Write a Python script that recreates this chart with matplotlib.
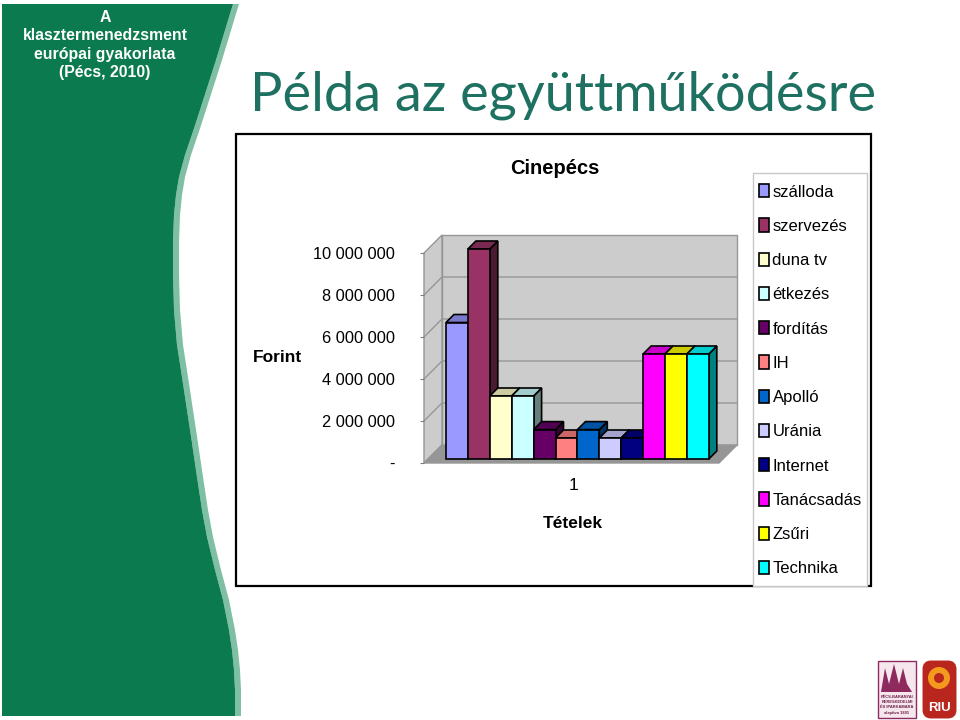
import matplotlib
matplotlib.use("Agg")
import matplotlib.pyplot as plt
from matplotlib.patches import Polygon, Rectangle, Circle, FancyBboxPatch
from matplotlib.colors import to_rgb

labels = ["szálloda", "szervezés", "duna tv", "étkezés", "fordítás", "IH",
          "Apolló", "Uránia", "Internet", "Tanácsadás", "Zsűri", "Technika"]
values = [6500000, 10000000, 3000000, 3000000, 1400000, 1000000,
          1400000, 1000000, 1000000, 5000000, 5000000, 5000000]
colors = ["#9999FF", "#993366", "#FFFFCC", "#CCFFFF", "#660066", "#FF8080",
          "#0066CC", "#CCCCFF", "#000080", "#FF00FF", "#FFFF00", "#00FFFF"]
y_ticks = [0, 2000000, 4000000, 6000000, 8000000, 10000000]
y_tick_labels = ["-", "2 000 000", "4 000 000", "6 000 000", "8 000 000", "10 000 000"]
side_text = ["A", "klasztermenedzsment", "európai gyakorlata", "(Pécs, 2010)"]
logo_text = ["PÉCS-BARANYAI", "KERESKEDELMI", "ÉS IPARKAMARA", "alapítva 1891"]
title = "Példa az együttműködésre"
chart_title = "Cinepécs"
y_title = "Forint"
x_title = "Tételek"
GREEN = "#0B7A4E"
STRIPE = "#7FBFA3"

plt.rcParams["font.family"] = ["Liberation Sans", "DejaVu Sans"]


def shade(color, k):
    return tuple(c * k for c in to_rgb(color))


fig = plt.figure(figsize=(9.6, 7.2), dpi=100)

# slide background in pixel coordinates
bg = fig.add_axes([0, 0, 1, 1])
bg.set_xlim(0, 960)
bg.set_ylim(720, 0)
bg.axis("off")

edge_y = [4, 60, 110, 130, 155, 177, 195, 215, 243, 275, 310, 345, 377, 410, 443, 477, 510, 537, 570, 600, 630, 650, 670, 690, 716]
edge_x = [233, 216, 200, 193.5, 185, 179, 176, 174, 173, 173, 174, 177, 182, 187, 192, 197, 202, 207, 215, 223, 229, 232, 234, 235, 235]
stripe = [(x, y) for x, y in zip(edge_x, edge_y)] + \
         [(x + 6, y) for x, y in zip(edge_x[::-1], edge_y[::-1])]
bg.add_patch(Polygon(stripe, fc=STRIPE, ec="none"))
bg.add_patch(Polygon([(2, 4)] + list(zip(edge_x, edge_y)) + [(2, 716)], fc=GREEN, ec="none"))

for line, y in zip(side_text, [17, 36, 55, 73]):
    bg.text(105, y, line, color="white", fontsize=11.4, fontweight="bold",
            ha="center", va="center")
bg.text(250, 95, title, color="#1E7060", fontsize=38.9, family="Lato", ha="left", va="center")

# chart frame and legend frame
bg.add_patch(Rectangle((236, 134), 635, 452, fc="white", ec="black", lw=1.6))
bg.add_patch(Rectangle((753, 173), 114, 413, fc="white", ec="#C8C8C8", lw=1))
bg.text(555, 168, chart_title, fontsize=14.5, fontweight="bold", ha="center", va="center")
bg.text(278, 358, y_title, fontsize=12.5, fontweight="bold", ha="center", va="center")
bg.text(573, 524, x_title, fontsize=12.5, fontweight="bold", ha="center", va="center")

# logos
bg.add_patch(Rectangle((878, 661), 38, 57, fc="#F6E6EE", ec="#8E2A5E", lw=1))
bg.add_patch(Polygon([(881, 692), (885, 668), (889, 684), (894, 664), (899, 684),
                      (903, 668), (907, 684), (912, 692)], fc="#8E2A5E", ec="none"))
for line, y in zip(logo_text, [697, 702, 707, 713]):
    bg.text(897, y, line, color="#6E1F48", fontsize=2.9, fontweight="bold", ha="center", va="center")
bg.add_patch(FancyBboxPatch((926, 664), 27, 51, boxstyle="round,pad=0,rounding_size=5",
                            mutation_aspect=1, fc="#B8261E", ec="#B8261E", lw=5))
bg.add_patch(Circle((939, 678), 11, fc="#F39A1E", ec="none"))
bg.add_patch(Circle((939, 678), 5, fc="#B8261E", ec="none"))
bg.text(939.5, 708, "RIU", color="white", fontsize=9.5, fontweight="bold", ha="center", va="center")

# front plane of the 3D plot: 21.9 px per bar slot, 42 px per 2 000 000
ax = fig.add_axes([424 / 960, 1 - 463 / 720, 295 / 960, 210 / 720])
ax.patch.set_alpha(0)
slot_px = 21.9
val_px = 210 / 10000000
ax.set_xlim(-22 / slot_px, (719 - 446) / slot_px)
ax.set_ylim(0, 10000000)
for s in ax.spines.values():
    s.set_visible(False)
ax.set_xticks([])
ax.set_yticks(y_ticks, y_tick_labels)
ax.tick_params(axis="y", length=3, color="#808080", labelsize=11.8, pad=18)


def off(x, y, dx, dy):
    # shift a data point by a depth given in pixels
    return (x + dx / slot_px, y + dy / val_px)


x0, x1 = ax.get_xlim()
wall_ec = "#969696"
z = 1
ax.add_patch(Polygon([off(x0, 0, 18, 18), off(x1, 0, 18, 18), off(x1, 10000000, 18, 18),
                      off(x0, 10000000, 18, 18)], fc="#CCCCCC", ec=wall_ec, lw=1, clip_on=False, zorder=z))
ax.add_patch(Polygon([(x0, 0), off(x0, 0, 18, 18), off(x0, 10000000, 18, 18), (x0, 10000000)],
                     fc="#CCCCCC", ec=wall_ec, lw=1, clip_on=False, zorder=z))
ax.add_patch(Polygon([(x0, 0), (x1, 0), off(x1, 0, 18, 18), off(x0, 0, 18, 18)],
                     fc="#969696", ec=wall_ec, lw=1, clip_on=False, zorder=z))
for t in y_ticks[1:-1]:
    ax.plot(*zip((x0, t), off(x0, t, 18, 18), off(x1, t, 18, 18)), color=wall_ec, lw=1,
            clip_on=False, zorder=z + 0.5)

# bars, each one drawn left to right so the next hides the side of the last
for i, (name, v, c) in enumerate(zip(labels, values, colors)):
    z = 3 + i
    left, right = off(i, 0, 0, 0)[0], off(i + 1, 0, 0, 0)[0]
    base = 4 / val_px
    ax.bar(i, v, width=1, bottom=base, align="edge", color=c, ec="black", lw=1.2,
           label=name, zorder=z + 0.2, clip_on=False)
    top = v + base
    ax.add_patch(Polygon([(right, base), (right, top), off(right, top, 8, 8), off(right, base, 8, 8)],
                         fc=shade(c, 0.5), ec="black", lw=1.2, clip_on=False, zorder=z))
    ax.add_patch(Polygon([(left, top), (right, top), off(right, top, 8, 8), off(left, top, 8, 8)],
                         fc=shade(c, 0.8), ec="black", lw=1.2, clip_on=False, zorder=z + 0.1))

bg.text(573, 485, "1", fontsize=12.5, ha="center", va="center")

ax.legend(loc="upper left", bbox_to_anchor=(750 / 960, 1 - 175 / 720), bbox_transform=fig.transFigure,
          frameon=False, fontsize=12, handlelength=0.6, handleheight=0.85, handletextpad=0.2,
          labelspacing=1.13, borderpad=0.55, borderaxespad=0)

fig.savefig("out.png", dpi=100)
